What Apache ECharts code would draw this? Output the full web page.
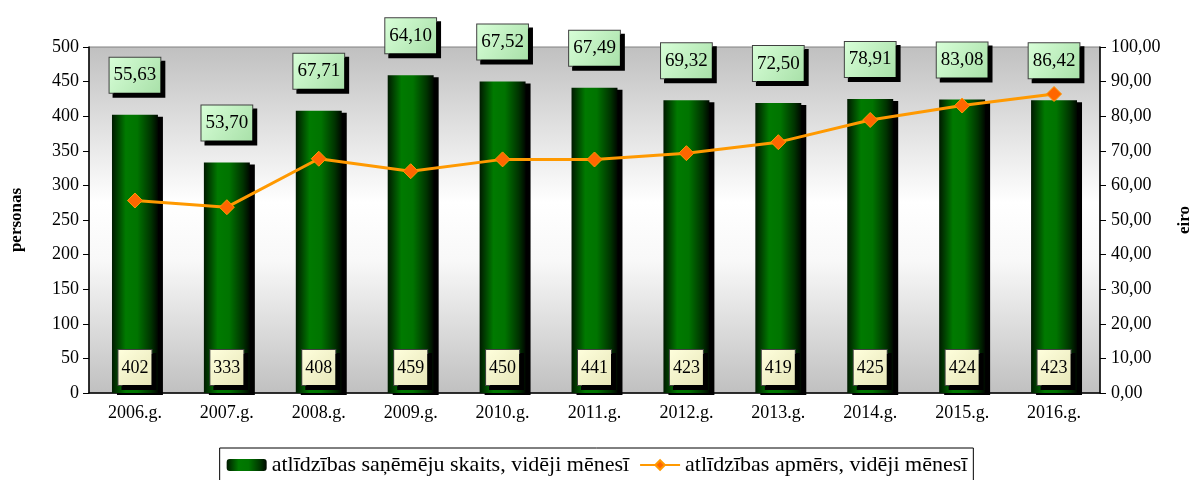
<!DOCTYPE html>
<html>
<head>
  <meta charset="utf-8">
  <script src="https://cdn.jsdelivr.net/npm/echarts@6/dist/echarts.min.js"></script>
</head>
<body style="margin: 0">
  <div id="container" style="width: 1194px; height: 480px"></div>
  <script type="text/javascript">
    var years = ['2006.g.', '2007.g.', '2008.g.', '2009.g.', '2010.g.', '2011.g.',
                 '2012.g.', '2013.g.', '2014.g.', '2015.g.', '2016.g.'];
    // persons receiving the benefit, monthly average
    var persons = [402, 333, 408, 459, 450, 441, 423, 419, 425, 424, 423];
    // benefit amount, euro, monthly average
    var amount = [55.63, 53.70, 67.71, 64.10, 67.52, 67.49, 69.32, 72.50, 78.91, 83.08, 86.42];

    var barName = 'atlīdzības saņēmēju skaits, vidēji mēnesī';
    var lineName = 'atlīdzības apmērs, vidēji mēnesī';
    var font = '"Liberation Serif", "Times New Roman", serif';

    function comma(v) {
      return v.toFixed(2).replace('.', ',');
    }

    var barColor = new echarts.graphic.LinearGradient(0, 0, 1, 0, [
      { offset: 0, color: '#001a00' },
      { offset: 0.3, color: '#007a00' },
      { offset: 0.55, color: '#007400' },
      { offset: 0.85, color: '#003300' },
      { offset: 1, color: '#000800' }
    ]);

    var myChart = echarts.init(document.getElementById('container'), null, { renderer: 'canvas' });

    var option = {
      textStyle: { fontFamily: font },
      animation: false,
      grid: {
        left: 89, right: 94, top: 47, bottom: 87,
        outerBoundsMode: 'none',
        containLabel: false,
        show: true,
        borderColor: '#808080',
        borderWidth: 1,
        backgroundColor: new echarts.graphic.LinearGradient(0, 0, 0, 1, [
          { offset: 0, color: '#c0c0c0' },
          { offset: 0.45, color: '#ffffff' },
          { offset: 0.62, color: '#f8f8f8' },
          { offset: 1, color: '#c0c0c0' }
        ])
      },
      legend: {
        data: [barName, lineName],
        top: 448,
        left: 'center',
        borderColor: '#000',
        borderWidth: 1,
        padding: [6, 6, 6, 7],
        itemGap: 10,
        itemWidth: 40,
        itemHeight: 12,
        textStyle: { fontFamily: font, fontSize: 22, color: '#000' }
      },
      xAxis: {
        type: 'category',
        data: years,
        axisLine: { lineStyle: { color: '#000', width: 1.5 } },
        axisTick: { length: 6, lineStyle: { color: '#000' } },
        axisLabel: { color: '#000', fontSize: 18, fontFamily: font, margin: 11 }
      },
      yAxis: [
        {
          type: 'value',
          min: 0, max: 500, interval: 50,
          name: 'personas',
          nameLocation: 'middle',
          nameRotate: 90,
          nameGap: 64,
          nameTextStyle: { fontWeight: 'bold', fontSize: 17, color: '#000', fontFamily: font },
          axisLine: { show: true, lineStyle: { color: '#000', width: 1.5 } },
          axisTick: { show: true, length: 6, lineStyle: { color: '#000' } },
          axisLabel: { color: '#000', fontSize: 18, fontFamily: font, margin: 10 },
          splitLine: { show: false }
        },
        {
          type: 'value',
          min: 0, max: 100, interval: 10,
          name: 'eiro',
          nameLocation: 'middle',
          nameRotate: 90,
          nameGap: 76,
          nameTextStyle: { fontWeight: 'bold', fontSize: 17, color: '#000', fontFamily: font },
          axisLine: { show: true, lineStyle: { color: '#000', width: 1.5 } },
          axisTick: { show: true, length: 6, lineStyle: { color: '#000' } },
          axisLabel: {
            color: '#000', fontSize: 18, fontFamily: font, margin: 11,
            formatter: function (v) { return comma(v); }
          },
          splitLine: { show: false }
        }
      ],
      series: [
        {
          name: barName,
          type: 'bar',
          data: persons,
          barWidth: '50%',
          itemStyle: {
            color: barColor,
            shadowColor: '#000',
            shadowOffsetX: 5,
            shadowOffsetY: 2,
            shadowBlur: 0
          },
          label: {
            show: true,
            position: 'insideBottom',
            distance: 8,
            color: '#000',
            fontSize: 18,
            fontFamily: font,
            padding: [9, 3, 8, 3],
            borderColor: '#404040',
            borderWidth: 1,
            backgroundColor: new echarts.graphic.LinearGradient(0, 0, 1, 1, [
              { offset: 0, color: '#ffffdd' },
              { offset: 1, color: '#e6e6b8' }
            ]),
            shadowColor: '#000',
            shadowOffsetX: 4,
            shadowOffsetY: 4,
            shadowBlur: 0
          },
          z: 2
        },
        {
          // invisible copy of the bars, only carries the euro labels above each bar
          name: 'labels',
          type: 'bar',
          data: persons,
          barWidth: '50%',
          barGap: '-100%',
          silent: true,
          itemStyle: { color: 'rgba(0,0,0,0)' },
          label: {
            show: true,
            position: 'top',
            distance: 22,
            color: '#000',
            fontSize: 19,
            fontFamily: font,
            padding: [8, 4, 8, 4],
            borderColor: '#404040',
            borderWidth: 1,
            backgroundColor: new echarts.graphic.LinearGradient(0, 0, 1, 1, [
              { offset: 0, color: '#d8ffd8' },
              { offset: 1, color: '#a8e0a8' }
            ]),
            shadowColor: '#000',
            shadowOffsetX: 4,
            shadowOffsetY: 4,
            shadowBlur: 0,
            formatter: function (p) { return comma(amount[p.dataIndex]); }
          },
          z: 4
        },
        {
          name: lineName,
          type: 'line',
          yAxisIndex: 1,
          data: amount,
          symbol: 'diamond',
          symbolSize: 15,
          lineStyle: { color: '#ff9900', width: 3 },
          itemStyle: { color: '#ff6600', borderColor: '#ff9900', borderWidth: 1 },
          z: 3
        }
      ]
    };

    myChart.setOption(option);
    window.addEventListener('resize', myChart.resize);
  </script>
</body>
</html>
